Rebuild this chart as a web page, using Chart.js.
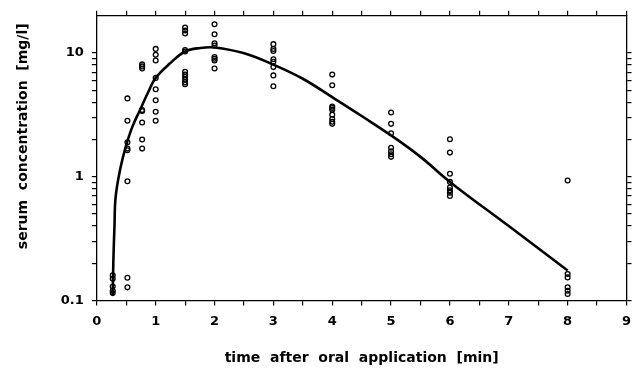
<!DOCTYPE html>
<html>
<head>
<meta charset="utf-8">
<script src="https://cdn.jsdelivr.net/npm/chart.js@4.4.1/dist/chart.umd.min.js"></script>
<style>
  html, body { margin: 0; padding: 0; background: #fff; }
  #wrap { width: 639px; height: 373px; }
</style>
</head>
<body>
<div id="wrap"><canvas id="pk_chart" width="639" height="373"></canvas></div>
<script>
// sampling times [min] and the measured concentrations [mg/l] at each time
const sampleTimes = [0.27, 0.52, 0.77, 1.0, 1.5, 2.0, 3.0, 4.0, 5.0, 6.0, 8.0];
const sampleValues = [
    [0.16, 0.15, 0.13, 0.12, 0.115],
    [4.3, 2.84, 1.9, 1.69, 1.64, 0.92, 0.153, 0.128],
    [8.1, 7.8, 7.5, 3.46, 3.4, 2.75, 2.0, 1.69],
    [10.8, 9.7, 8.7, 6.3, 5.1, 4.16, 3.36, 2.84],
    [16.1, 15.2, 14.4, 10.6, 10.3, 7.05, 6.7, 6.4, 6.1, 5.8, 5.6],
    [17.1, 14.2, 12.0, 11.5, 9.3, 9.0, 8.7, 7.5],
    [11.8, 10.8, 10.4, 8.9, 8.5, 7.7, 6.6, 5.4],
    [6.7, 5.5, 3.7, 3.6, 3.48, 3.18, 2.93, 2.79, 2.68],
    [3.31, 2.68, 2.25, 1.72, 1.61, 1.52, 1.45],
    [2.01, 1.57, 1.06, 0.91, 0.82, 0.78, 0.745, 0.70],
    [0.935, 0.164, 0.154, 0.128, 0.12, 0.113]
];

// fitted curve
const curveX = [0.27, 0.28, 0.30, 0.32, 0.405, 0.49, 0.60, 0.74, 0.87, 1.0, 1.25, 1.5, 1.76, 2.0, 2.49, 2.99, 3.5, 4.0, 4.5, 5.0, 5.5, 6.0, 7.0, 8.0];
const curveY = [0.11, 0.2, 0.4, 0.69, 1.2, 1.74, 2.51, 3.52, 4.8, 6.3, 8.3, 10.3, 11.0, 11.1, 10.0, 8.1, 6.2, 4.4, 3.1, 2.16, 1.45, 0.91, 0.40, 0.175];

const xTickValues = [0, 0.5, 1, 1.5, 2, 2.5, 3, 3.5, 4, 4.5, 5, 5.5, 6, 6.5, 7, 7.5, 8, 8.5, 9];
const yTickValues = [0.1, 0.2, 0.3, 0.4, 0.5, 0.6, 0.7, 0.8, 0.9, 1, 2, 3, 4, 5, 6, 7, 8, 9, 10];
const yLabelValues = [0.1, 1, 10];

const xTitle = 'time  after  oral  application  [min]';
const yTitle = '         serum  concentration  [mg/l]';

let points = [];
for (let i = 0; i < sampleTimes.length; i++) {
    for (let j = 0; j < sampleValues[i].length; j++) {
        points.push({ x: sampleTimes[i], y: sampleValues[i][j] });
    }
}
let curve = curveX.map((x, i) => ({ x: x, y: curveY[i] }));

const tickFont = { family: 'DejaVu Sans', size: 13, weight: 'bold' };
const titleFont = { family: 'DejaVu Sans', size: 14, weight: 'bold' };

function setTicks(values) {
    return function (scale) {
        scale.ticks = values.map(v => ({ value: v }));
    };
}

function axisFrame() {
    return { display: true, color: '#000', width: 1.3 };
}

function axisGrid(len) {
    return { drawOnChartArea: false, drawTicks: true, tickLength: len, color: '#000', tickColor: '#000', lineWidth: 1.2 };
}

new Chart(document.getElementById('pk_chart').getContext('2d'), {
    type: 'scatter',
    data: {
        datasets: [{
            label: 'fit',
            data: curve,
            showLine: true,
            borderColor: '#000',
            borderWidth: 2.6,
            pointRadius: 0,
            tension: 0.4,
            fill: false
        }, {
            label: 'serum',
            data: points,
            showLine: false,
            pointStyle: 'circle',
            pointRadius: 2.4,
            pointBorderWidth: 1.3,
            pointBorderColor: '#000',
            pointBackgroundColor: 'rgba(0,0,0,0)'
        }]
    },
    options: {
        responsive: false,
        animation: false,
        layout: { padding: { left: 15, right: 3, top: 7, bottom: 0 } },
        plugins: {
            legend: { display: false },
            tooltip: { enabled: false }
        },
        scales: {
            x: {
                type: 'linear',
                position: 'bottom',
                min: 0,
                max: 9,
                afterBuildTicks: setTicks(xTickValues),
                border: axisFrame(),
                grid: axisGrid(5),
                ticks: {
                    color: '#000',
                    font: tickFont,
                    padding: 8,
                    maxRotation: 0,
                    autoSkip: false,
                    callback: v => Number.isInteger(v) ? String(v) : ''
                },
                title: {
                    display: true,
                    text: xTitle,
                    color: '#000',
                    font: titleFont,
                    padding: { top: 13, bottom: 6 }
                }
            },
            x2: {
                type: 'linear',
                position: 'top',
                min: 0,
                max: 9,
                afterBuildTicks: setTicks(xTickValues),
                border: axisFrame(),
                grid: axisGrid(5),
                ticks: { display: false }
            },
            y: {
                type: 'logarithmic',
                position: 'left',
                min: 0.1,
                max: 20,
                afterBuildTicks: setTicks(yTickValues),
                border: axisFrame(),
                grid: axisGrid(5),
                ticks: {
                    color: '#000',
                    font: tickFont,
                    padding: 8,
                    autoSkip: false,
                    callback: v => yLabelValues.includes(v) ? String(v) : ''
                },
                title: {
                    display: true,
                    text: yTitle,
                    color: '#000',
                    font: titleFont,
                    padding: { top: 0, bottom: 21 }
                }
            },
            y2: {
                type: 'logarithmic',
                position: 'right',
                min: 0.1,
                max: 20,
                afterBuildTicks: setTicks(yTickValues),
                border: axisFrame(),
                grid: axisGrid(5),
                ticks: { display: false }
            }
        }
    }
});
</script>
</body>
</html>
